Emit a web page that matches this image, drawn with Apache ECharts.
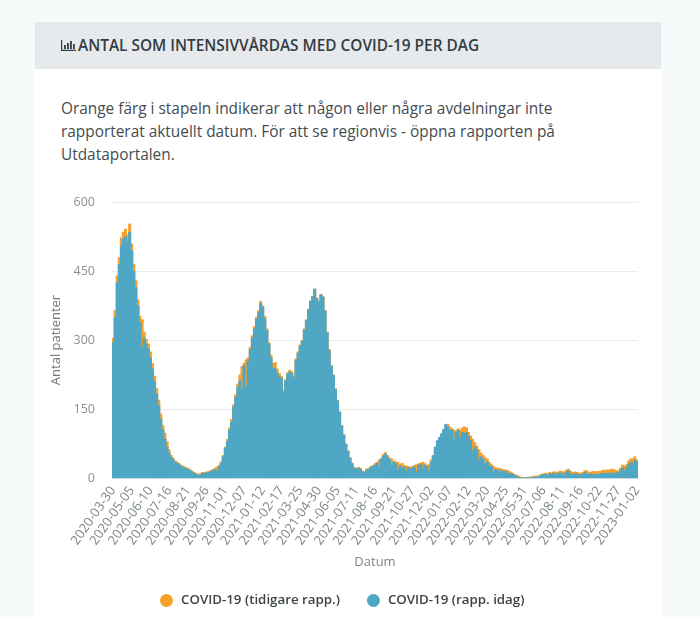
<!DOCTYPE html>
<html><head><meta charset="utf-8">
<style>
html,body{margin:0;padding:0;background:#f7fafb;width:700px;height:617px;overflow:hidden;font-family:"Open Sans",sans-serif}
#card{position:absolute;left:35px;top:22px;width:626px;height:640px;background:#fff}
#head{position:absolute;left:0;top:0;width:626px;height:47px;background:#e6eaed;color:#333c42;font-size:15.4px;font-weight:600;line-height:47px}
#head svg{position:absolute;left:26px;top:18px}
#head span{position:absolute;left:43px;top:0;white-space:nowrap}
#para{position:absolute;left:26px;top:75px;width:520px;color:#444c52;font-size:15.4px;line-height:23px;white-space:nowrap}
#chart{position:absolute;left:0;top:0;width:700px;height:617px}
</style>
<script src="https://cdn.jsdelivr.net/npm/echarts@6/dist/echarts.min.js"></script>
</head><body>
<div id="card">
<div id="head"><svg width="15" height="11" viewBox="0 0 15 11"><path d="M0 0h1.2v9.8H15V11H0z M3 5h1.8v4H3z M6 3h1.8v6H6z M9 1h1.8v8H9z M12 4h1.8v5H12z" fill="#333c42"/></svg><span>ANTAL SOM INTENSIVVÅRDAS MED COVID-19 PER DAG</span></div>
<div id="para">Orange färg i stapeln indikerar att någon eller några avdelningar inte<br>rapporterat aktuellt datum. För att se regionvis - öppna rapporten på<br>Utdataportalen.</div>
</div>
<div id="chart"></div>
<script>
const startDate = '2020-03-30';
const stepDays = 4;
const seriesNames = ['COVID-19 (tidigare rapp.)', 'COVID-19 (rapp. idag)'];
const yTicks = [0, 150, 300, 450, 600];
const totalValues = [
305,365,440,480,523,535,542,530,553,
510,465,430,388,352,345,318,302,292,
275,250,222,195,170,140,115,98,80,
62,50,44,38,35,32,28,26,24,
22,19,16,13,11,9,10,13,13,
14,15,17,19,22,25,28,36,50,
68,85,110,128,160,182,205,225,243,
250,258,262,285,310,330,350,365,385,
375,352,325,295,268,250,252,238,228,
222,192,215,230,235,232,222,260,275,
290,300,325,345,368,386,396,412,392,
385,400,395,365,318,280,245,225,195,
170,145,115,95,75,60,45,33,24,
22,24,22,16,14,20,22,26,28,
32,35,40,44,52,56,50,45,42,
38,36,35,30,33,28,27,26,24,
26,28,30,32,33,35,32,28,30,
40,50,62,72,85,95,105,110,118,
112,108,105,103,108,105,110,112,110,
100,92,85,78,70,62,55,50,45,
42,35,30,26,23,22,22,20,19,
18,17,14,12,9,7,5,3,2,
2,2,3,3,4,5,5,6,9,
10,11,10,13,12,14,14,13,16,
15,14,18,20,16,13,14,13,12,
11,13,17,16,13,14,15,14,15,
15,16,18,17,19,18,20,19,17,
16,22,29,27,30,38,42,43,47,
40];
const todayValues = [
295,350,425,465,505,520,525,515,535,
495,450,415,375,338,285,305,292,282,
262,238,210,183,158,128,105,85,68,
55,46,40,35,32,29,26,23,21,
20,17,14,11,9,7,8,11,11,
12,13,15,17,19,15,25,33,47,
66,80,105,122,155,176,198,212,195,
245,200,255,280,305,325,346,360,380,
372,348,322,292,262,240,238,228,220,
218,188,212,226,231,228,218,257,272,
288,298,323,343,366,385,395,411,391,
384,399,394,364,317,278,244,224,193,
168,144,114,94,74,59,44,32,23,
20,22,20,15,12,18,20,24,26,
29,33,25,41,48,53,46,41,28,
35,32,18,27,22,25,15,23,21,
23,25,14,29,30,20,29,25,15,
35,49,68,82,89,97,106,117,112,
104,106,85,101,104,90,100,98,100,
92,82,60,68,62,40,47,42,30,
36,28,25,12,19,18,12,17,15,
15,10,11,9,7,5,3,1,1,
1,1,1,2,2,3,3,4,7,
8,8,5,10,9,11,7,10,12,
11,7,14,16,11,8,10,10,8,
8,9,13,9,9,10,8,7,9,
8,11,9,11,10,12,10,12,10,
13,17,23,18,24,30,35,32,40,
36];
const categories = totalValues.map((_, i) => {
  const d = new Date(startDate + 'T00:00:00Z');
  d.setUTCDate(d.getUTCDate() + i * stepDays);
  return d.toISOString().slice(0, 10);
});
const chart = echarts.init(document.getElementById('chart'), null, {renderer: 'canvas'});
chart.setOption({
  animation: false,
  textStyle: {fontFamily: '"Open Sans", sans-serif'},
  grid: {left: 112, right: 62, top: 202, bottom: 139},
  legend: {
    top: 589, left: 155, icon: 'circle', itemWidth: 13, itemHeight: 13, itemGap: 27,
    textStyle: {color: '#3c4449', fontSize: 13.3, fontWeight: 600, fontFamily: '"Open Sans", sans-serif', padding: [0, 0, 0, 3]},
    data: seriesNames
  },
  xAxis: {
    type: 'category', data: categories, name: 'Datum', nameLocation: 'middle', nameGap: 78,
    nameTextStyle: {color: '#7b858b', fontSize: 13},
    axisTick: {show: false},
    axisLine: {lineStyle: {color: '#c9dde6', width: 1}},
    axisLabel: {interval: 8, rotate: 55, color: '#7b858b', fontSize: 13, margin: 10, hideOverlap: false}
  },
  yAxis: {
    type: 'value', min: 0, max: yTicks[yTicks.length - 1], interval: yTicks[1] - yTicks[0],
    name: 'Antal patienter', nameLocation: 'middle', nameGap: 41,
    nameTextStyle: {color: '#6f797f', fontSize: 13},
    axisLine: {show: false}, axisTick: {show: false},
    axisLabel: {color: '#8a9197', fontSize: 12.5, margin: 17},
    splitLine: {lineStyle: {color: '#e9ebed', width: 1}}
  },
  series: [
    {name: seriesNames[0], type: 'bar', data: totalValues, barGap: '-100%', barWidth: 3, itemStyle: {color: '#f8a02c'}},
    {name: seriesNames[1], type: 'bar', data: todayValues, barGap: '-100%', barWidth: 3, itemStyle: {color: '#4fa7c4'}}
  ]
});
</script>
</body></html>
